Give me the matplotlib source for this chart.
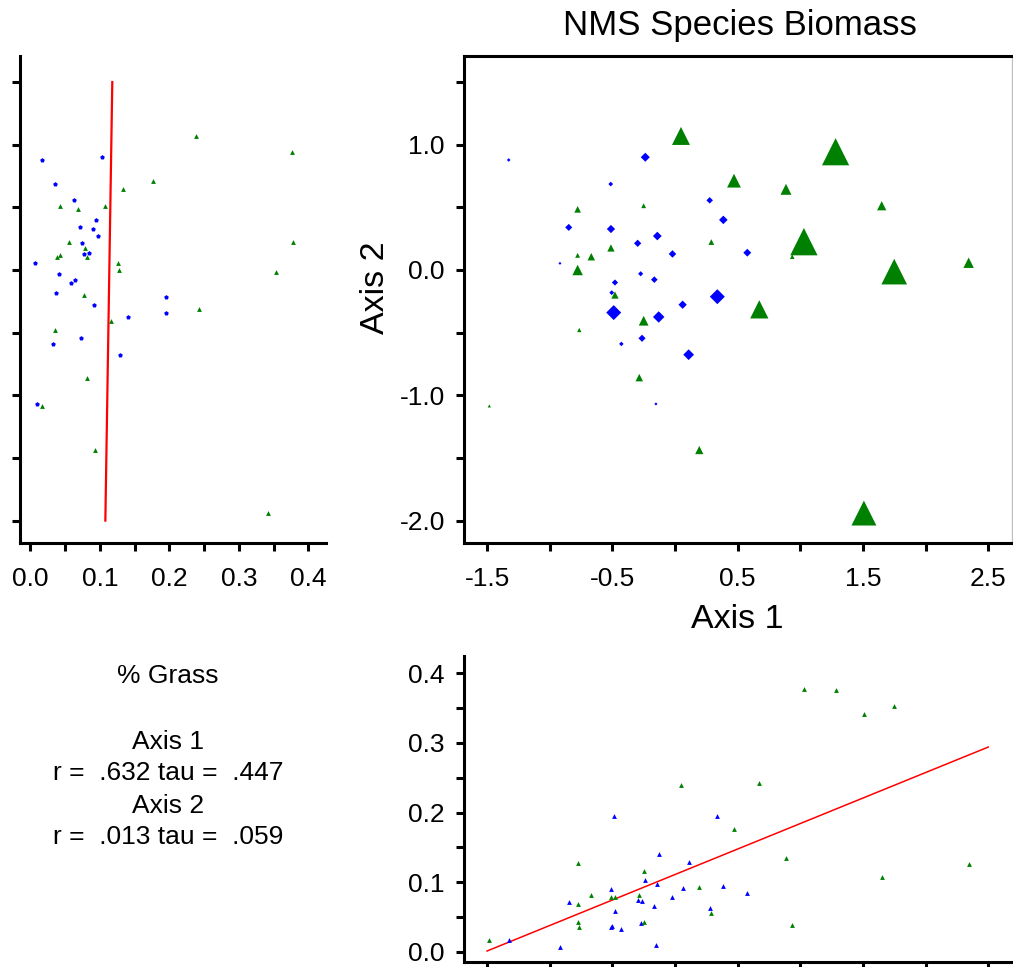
import matplotlib
matplotlib.use("Agg")
import matplotlib.pyplot as plt
import numpy as np

plt.rcParams['font.family'] = ['Liberation Sans', 'DejaVu Sans']

# ---- data: blue group (diamonds) ----
blue_ax1 = [-1.327, -0.237, -0.513, 0.277, 0.386, -0.848, -0.511, -0.298, -0.141, -0.020,
            0.577, -0.918, -0.274, -0.165, -0.479, -0.505, 0.338, -0.489, -0.130, 0.061,
            -0.428, -0.263, 0.109, -0.152]
blue_ax2 = [0.878, 0.900, 0.686, 0.556, 0.400, 0.340, 0.327, 0.213, 0.271, 0.128,
            0.138, 0.053, -0.030, -0.077, -0.100, -0.181, -0.213, -0.340, -0.375, -0.277,
            -0.590, -0.545, -0.676, -1.069]
blue_grass = [0.017, 0.103, 0.035, 0.063, 0.095, 0.071, 0.090, 0.075, 0.097, 0.078,
              0.084, 0.007, 0.041, 0.065, 0.058, 0.037, 0.195, 0.195, 0.140, 0.091,
              0.032, 0.073, 0.129, 0.010]

# ---- data: green group (triangles) ----
green_ax1 = [0.048, 1.282, 0.471, 0.886, 1.650, -0.777, -0.250, 0.290, 1.029, 0.936,
             -0.511, -0.777, -0.668, -0.777, 2.344, 1.750, -0.479, 0.673, -0.250, -0.764,
             -0.285, -1.482, 0.194, 1.508]
green_ax2 = [1.070, 0.944, 0.713, 0.644, 0.513, 0.484, 0.513, 0.223, 0.226, 0.106,
             0.176, 0.117, 0.106, 0.000, 0.058, -0.013, -0.200, -0.314, -0.405, -0.479,
             -0.859, -1.085, -1.437, -1.940]
green_grass = [0.239, 0.376, 0.176, 0.134, 0.108, 0.069, 0.043, 0.056, 0.378, 0.039,
               0.079, 0.043, 0.082, 0.127, 0.126, 0.353, 0.078, 0.243, 0.116, 0.035,
               0.082, 0.017, 0.093, 0.342]

# regression lines (read endpoints)
reg1_ax1 = [-1.5, 2.5]
reg1_grass = [0.001, 0.294]
reg2_ax2 = [-2.0, 1.5]
reg2_grass = [0.108, 0.118]

stats_lines = ["% Grass", "", "Axis 1", "r =  .632 tau =  .447", "Axis 2", "r =  .013 tau =  .059"]

BLUE = '#0000ff'
GREEN = '#008000'
W, H = 1013, 967
fig = plt.figure(figsize=(W / 100, H / 100), dpi=100)

def fx(px):
    return px / W

def fy(py):
    return 1 - py / H

AX1_LIM = (-1.688, 2.690)
AX2_LIM = (-2.179, 1.708)
GR_LIM = (-0.0148, 0.425)
TICK_FS = 19
LABEL_FS = 24.5
SPINE_LW = 2.2

def style(ax):
    for s in ax.spines.values():
        s.set_linewidth(SPINE_LW)
    ax.tick_params(length=5.5, width=2.2, labelsize=TICK_FS, direction='out', pad=7)

# ---- main NMS plot ----
x0, x1 = 463.5, 1012
y0, y1 = 56, 543
axm = fig.add_axes([fx(x0), fy(y1), fx(x1) - fx(x0), fy(y0) - fy(y1)])
style(axm)
axm.spines['right'].set_color('#c0c0c0')
axm.spines['right'].set_linewidth(1)
g_sizes = [(2 + 67 * g) * 0.72 for g in green_grass]
b_sizes = [((2.5 + 64 * g) / 1.414) * 0.72 for g in blue_grass]
axm.scatter(blue_ax1, blue_ax2, s=np.array(b_sizes) ** 2, marker='D', color=BLUE, linewidths=0, zorder=3)
axm.scatter(green_ax1, green_ax2, s=np.array(g_sizes) ** 2, marker='^', color=GREEN, linewidths=0, zorder=3)
axm.set_xlim(*AX1_LIM)
axm.set_ylim(*AX2_LIM)
xt = np.arange(-1.5, 2.51, 0.5)
axm.set_xticks(xt)
axm.set_xticklabels(['%.1f' % v if abs((v + 1.5) % 1.0) < 1e-6 else '' for v in xt])
yt = np.arange(-2.0, 1.51, 0.5)
axm.set_yticks(yt)
axm.set_yticklabels(['%.1f' % v if abs(v % 1.0) < 1e-6 else '' for v in yt])
axm.tick_params(axis='x', pad=12)
axm.tick_params(axis='y', pad=8)

fig.text(fx(740), fy(25), "NMS Species Biomass", ha='center', va='center', fontsize=25)
fig.text(fx(737), fy(620), "Axis 1", ha='center', va='center', fontsize=LABEL_FS)
fig.text(fx(375), fy(288), "Axis 2", ha='center', va='center', fontsize=LABEL_FS, rotation=90)

# ---- left plot: grass vs axis 2 ----
lx0, lx1 = 20, 30.3 + 695 * GR_LIM[1]
axl = fig.add_axes([fx(lx0), fy(y1), fx(lx1) - fx(lx0), fy(y0) - fy(y1)])
style(axl)
axl.spines['top'].set_visible(False)
axl.spines['right'].set_visible(False)
axl.scatter(blue_grass, blue_ax2, s=12, marker='p', color=BLUE, linewidths=0, zorder=3)
axl.scatter(green_grass, green_ax2, s=12, marker='^', color=GREEN, linewidths=0, zorder=3)
axl.plot(reg2_grass, reg2_ax2, color='red', lw=1.6, zorder=2)
axl.set_xlim(*GR_LIM)
axl.set_ylim(*AX2_LIM)
gt = np.arange(0, 0.401, 0.05)
axl.set_xticks(gt)
axl.set_xticklabels(['%.1f' % v if abs(round(v * 20) % 2) == 0 else '' for v in gt])
axl.set_yticks(yt)
axl.set_yticklabels([])
axl.tick_params(axis='x', pad=12)

# ---- bottom plot: axis 1 vs grass ----
by0, by1 = 951.7 - 696 * GR_LIM[1], 951.7 - 696 * GR_LIM[0]
axb = fig.add_axes([fx(x0), fy(by1), fx(x1) - fx(x0), fy(by0) - fy(by1)])
style(axb)
axb.spines['top'].set_visible(False)
axb.spines['right'].set_visible(False)
axb.scatter(blue_ax1, blue_grass, s=12, marker='^', color=BLUE, linewidths=0, zorder=3)
axb.scatter(green_ax1, green_grass, s=12, marker='^', color=GREEN, linewidths=0, zorder=3)
axb.plot(reg1_ax1, reg1_grass, color='red', lw=1.1, zorder=2)
axb.set_xlim(*AX1_LIM)
axb.set_ylim(*GR_LIM)
axb.set_xticks(xt)
axb.set_xticklabels([])
axb.set_yticks(gt)
axb.set_yticklabels(['%.1f' % v if abs(round(v * 20) % 2) == 0 else '' for v in gt])
axb.tick_params(axis='y', pad=8)

# ---- stats text ----
ys = [676, 709, 742, 773, 806, 837]
for t, yy in zip(stats_lines, ys):
    if t:
        fig.text(fx(168), fy(yy), t, ha='center', va='center', fontsize=19)

fig.savefig("out.png", dpi=100)
